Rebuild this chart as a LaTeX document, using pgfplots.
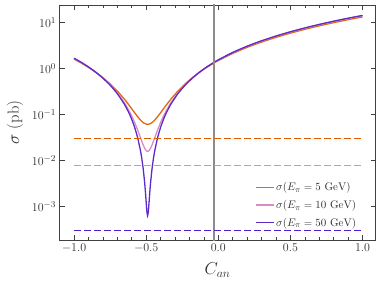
\documentclass[border=0pt]{standalone}
\usepackage{pgfplots}
\usepackage{pgfplotstable}
\pgfplotsset{compat=1.18}
\definecolor{myOrange}{RGB}{226,104,15}
\definecolor{myPink}{RGB}{217,139,196}
\definecolor{myViolet}{RGB}{94,43,201}
\definecolor{myDOrange}{RGB}{224,90,0}
\definecolor{myDBlue}{RGB}{79,32,208}
\definecolor{myGray}{RGB}{140,140,140}
\definecolor{myAxis}{RGB}{64,64,64}
\definecolor{myText}{RGB}{45,45,45}
\pgfplotstableread{
C      o        p        b
-1.00  1.6226   1.6806   1.6907
-0.95  1.3316   1.3702   1.3760
-0.90  1.0706   1.0918   1.0933
-0.85  0.8396   0.8454   0.8430
-0.80  0.6386   0.6310   0.6253
-0.75  0.4676   0.4486   0.4400
-0.70  0.3266   0.2982   0.2873
-0.65  0.2156   0.1798   0.1670
-0.62  0.1634   0.1242   0.1105
-0.60  0.1346   0.0934   0.0793
-0.58  0.1106   0.0678   0.0533
-0.56  0.0914   0.0474   0.0325
-0.54  0.0770   0.0320   0.01685
-0.53  0.0716   0.02624  0.0110
-0.52  0.0674   0.02176  0.00645
-0.51  0.0644   0.01856  0.0032
-0.505 0.06335  0.01744  0.00206
-0.50  0.0626   0.01664  0.00125
-0.495 0.06215  0.01616  0.00078
-0.49  0.0620   0.0160   0.00064
-0.485 0.06215  0.01616  0.00078
-0.48  0.0626   0.01664  0.00125
-0.475 0.06335  0.01744  0.00206
-0.47  0.0644   0.01856  0.0032
-0.46  0.0674   0.02176  0.00645
-0.45  0.0716   0.02624  0.0110
-0.44  0.0770   0.0320   0.01685
-0.42  0.0914   0.0474   0.0325
-0.40  0.1106   0.0678   0.0533
-0.38  0.1346   0.0934   0.0793
-0.36  0.1634   0.1242   0.1105
-0.33  0.2156   0.1798   0.1670
-0.28  0.3266   0.2982   0.2873
-0.23  0.4676   0.4486   0.4400
-0.18  0.6386   0.6310   0.6253
-0.13  0.8396   0.8454   0.8430
-0.08  1.0706   1.0918   1.0933
-0.03  1.3316   1.3702   1.3760
 0.00  1.5026   1.5526   1.5613
 0.10  2.1506   2.2438   2.2633
 0.20  2.9186   3.0630   3.0953
 0.30  3.8066   4.0102   4.0573
 0.40  4.8146   5.0854   5.1493
 0.50  5.9426   6.2886   6.3713
 0.60  7.1906   7.6198   7.7233
 0.70  8.5586   9.0790   9.2053
 0.80  10.0466  10.6662  10.8173
 0.90  11.6546  12.3814  12.5593
 1.00  13.3826  14.2246  14.4313
}\datatable
\begin{document}
\begin{tikzpicture}
\path[use as bounding box] (-59.6pt,-46pt) rectangle (322.4pt,240pt);
\begin{axis}[
  at={(0,0)}, anchor=south west,
  scale only axis, width=316pt, height=235pt,
  ymode=log, log basis y=10,
  xmin=-1.1, xmax=1.09, ymin=1.89e-4, ymax=24.3,
  xtick={-1,-0.5,0,0.5,1},
  xticklabels={$-1.0$,$-0.5$,$0.0$,$0.5$,$1.0$},
  minor xtick={-1.1,-0.9,-0.8,-0.7,-0.6,-0.4,-0.3,-0.2,-0.1,0.1,0.2,0.3,0.4,0.6,0.7,0.8,0.9},
  ytick={1e-3,1e-2,1e-1,1,10},
  yticklabels={$10^{-3}$,$10^{-2}$,$10^{-1}$,$10^{0}$,$10^{1}$},
  tick align=inside,
  major tick length=5pt, minor tick length=3pt,
  every tick/.style={draw=myAxis, line width=0.6pt},
  axis line style={draw=myAxis, line width=0.8pt},
  ticklabel style={font=\fontsize{13}{15}\selectfont, text=myText},
  xlabel={$C_{an}$}, ylabel={$\sigma$ (pb)},
  label style={font=\fontsize{16.5}{19}\selectfont, text=myText},
  xlabel style={at={(axis description cs:0.5,-0.1277)}, anchor=center},
  ylabel style={at={(axis description cs:-0.1413,0.5)}, anchor=center},
  legend style={at={(0.955,0.035)}, anchor=south east, draw=none, fill=none,
    font=\fontsize{11.3}{13}\selectfont, row sep=4pt, text=myText},
  legend cell align=left,
  clip=true,
]
\addplot[draw=myOrange, line width=1.3pt, smooth, tension=0.3] table[x=C, y=o] {\datatable};
\addlegendentry{$\sigma(E_\pi = 5~\mathrm{GeV})$}
\addplot[draw=myPink, line width=1.3pt, smooth, tension=0.3] table[x=C, y=p] {\datatable};
\addlegendentry{$\sigma(E_\pi = 10~\mathrm{GeV})$}
\addplot[draw=myViolet, line width=1.3pt, smooth, tension=0.3] table[x=C, y=b] {\datatable};
\addlegendentry{$\sigma(E_\pi = 50~\mathrm{GeV})$}
\addplot[draw=myGray, line width=1.2pt, forget plot] coordinates {(-0.03,1e-5) (-0.03,1e3)};
\addplot[draw=myDOrange, line width=1.2pt, dash pattern=on 6.5pt off 3.5pt, forget plot] coordinates {(-1,0.031) (1,0.031)};
\addplot[draw=myPink, line width=1.2pt, dash pattern=on 6.5pt off 3.5pt, forget plot] coordinates {(-1,0.0078) (1,0.0078)};
\addplot[draw=myDBlue, line width=1.2pt, dash pattern=on 6.5pt off 3.5pt, forget plot] coordinates {(-1,0.00031) (1,0.00031)};
\end{axis}
\end{tikzpicture}
\end{document}
